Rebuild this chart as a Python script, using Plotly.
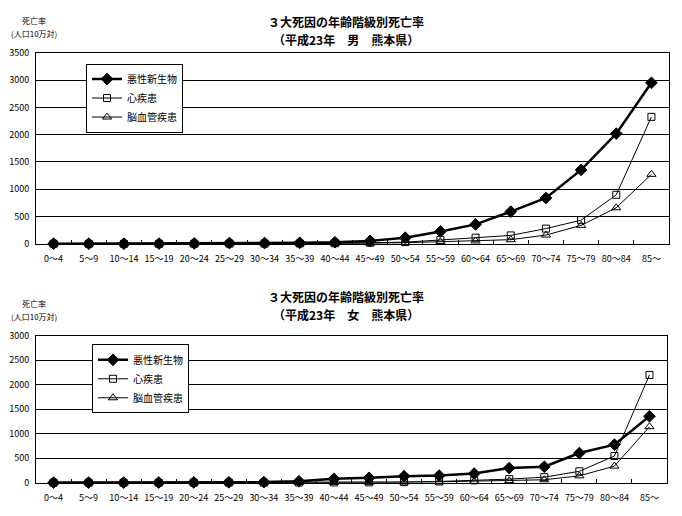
import plotly.graph_objects as go

ages = ["0～4", "5～9", "10～14", "15～19", "20～24", "25～29", "30～34", "35～39",
        "40～44", "45～49", "50～54", "55～59", "60～64", "65～69", "70～74",
        "75～79", "80～84", "85～"]

series_names = ["悪性新生物", "心疾患", "脳血管疾患"]

male_cancer = [3, 3, 3, 5, 8, 15, 15, 20, 30, 55, 113, 228, 357, 590, 840, 1355, 2020, 2950]
male_heart = [2, 1, 1, 2, 3, 5, 5, 8, 12, 20, 32, 71, 113, 155, 280, 434, 899, 2327]
male_cere = [1, 1, 1, 1, 2, 3, 4, 6, 10, 14, 22, 38, 54, 77, 161, 339, 661, 1274]

female_cancer = [2, 2, 2, 3, 5, 8, 12, 30, 80, 100, 133, 146, 186, 299, 325, 604, 776, 1354]
female_heart = [1, 1, 1, 1, 2, 2, 3, 4, 6, 8, 12, 25, 48, 73, 113, 232, 544, 2196]
female_cere = [1, 1, 1, 1, 1, 2, 3, 4, 6, 8, 12, 18, 28, 40, 60, 140, 338, 1141]

titles = [["３大死因の年齢階級別死亡率", "（平成23年　男　熊本県）"],
          ["３大死因の年齢階級別死亡率", "（平成23年　女　熊本県）"]]
ylabel = ["死亡率", "(人口10万対)"]

W, H = 682, 516
def px(x):
    return x / W
def py(y):
    return 1 - y / H

FONT = "Noto Sans CJK JP"
fig = go.Figure()

styles = [
    dict(line=dict(color="black", width=2.5), marker=dict(symbol="diamond", size=9, color="black",
         line=dict(color="black", width=1))),
    dict(line=dict(color="black", width=1), marker=dict(symbol="square-open", size=7, color="black",
         line=dict(color="black", width=1))),
    dict(line=dict(color="black", width=1), marker=dict(symbol="triangle-up-open", size=8, color="black",
         line=dict(color="black", width=1))),
]

for panel, (data, xa, ya, lg) in enumerate([
        ((male_cancer, male_heart, male_cere), "x", "y", "legend"),
        ((female_cancer, female_heart, female_cere), "x2", "y2", "legend2")]):
    for name, vals, st in zip(series_names, data, styles):
        fig.add_trace(go.Scatter(x=ages, y=vals, name=name, mode="lines+markers",
                                 xaxis=xa, yaxis=ya, legend=lg,
                                 line=st["line"], marker=st["marker"], cliponaxis=False))

axis_common = dict(showline=True, linecolor="black", linewidth=1, mirror=True,
                   tickfont=dict(family=FONT, size=9, color="black"))

n = len(ages)
fig.update_layout(
    width=W, height=H, margin=dict(l=0, r=0, t=0, b=0),
    paper_bgcolor="white", plot_bgcolor="white", showlegend=True,
    xaxis=dict(domain=[px(36), px(669)], anchor="y", type="category",
               range=[-0.5, n - 0.5], ticks="inside", tickson="boundaries", ticklen=4,
               tickcolor="black", showgrid=False, tickangle=0, ticklabelstandoff=6,
               **axis_common),
    yaxis=dict(domain=[py(243), py(47)], anchor="x", range=[0, 3500], dtick=500,
               showgrid=True, gridcolor="black", gridwidth=1, ticks="", zeroline=False,
               ticklabelstandoff=4, **axis_common),
    xaxis2=dict(domain=[px(36), px(667)], anchor="y2", type="category",
                range=[-0.5, n - 0.5], ticks="inside", tickson="boundaries", ticklen=4,
                tickcolor="black", showgrid=False, tickangle=0, ticklabelstandoff=6,
                **axis_common),
    yaxis2=dict(domain=[py(488), py(337)], anchor="x2", range=[0, 3000], dtick=500,
                showgrid=True, gridcolor="black", gridwidth=1, ticks="", zeroline=False,
                ticklabelstandoff=4, **axis_common),
    legend=dict(x=px(86), y=py(58), xanchor="left", yanchor="top",
                bgcolor="white", bordercolor="black", borderwidth=1,
                font=dict(family=FONT, size=10, color="black"), tracegroupgap=0),
    legend2=dict(x=px(92), y=py(346), xanchor="left", yanchor="top",
                 bgcolor="white", bordercolor="black", borderwidth=1,
                 font=dict(family=FONT, size=10, color="black"), tracegroupgap=0),
)

ann = []
for i, (t_y, l_y) in enumerate([(15, 14), (297, 304)]):
    for j, line in enumerate(titles[i]):
        ann.append(dict(text="<b>" + line + "</b>", x=px(346), y=py(t_y + j * 18),
                        xref="paper", yref="paper", showarrow=False,
                        xanchor="center", yanchor="middle",
                        font=dict(family=FONT, size=12, color="black")))
    for j, line in enumerate(ylabel):
        ann.append(dict(text=line, x=px(34), y=py(l_y + j * 13), xref="paper", yref="paper",
                        showarrow=False, xanchor="center", yanchor="middle",
                        font=dict(family=FONT, size=8, color="black")))
fig.update_layout(annotations=ann)

fig.write_html("out.html")
